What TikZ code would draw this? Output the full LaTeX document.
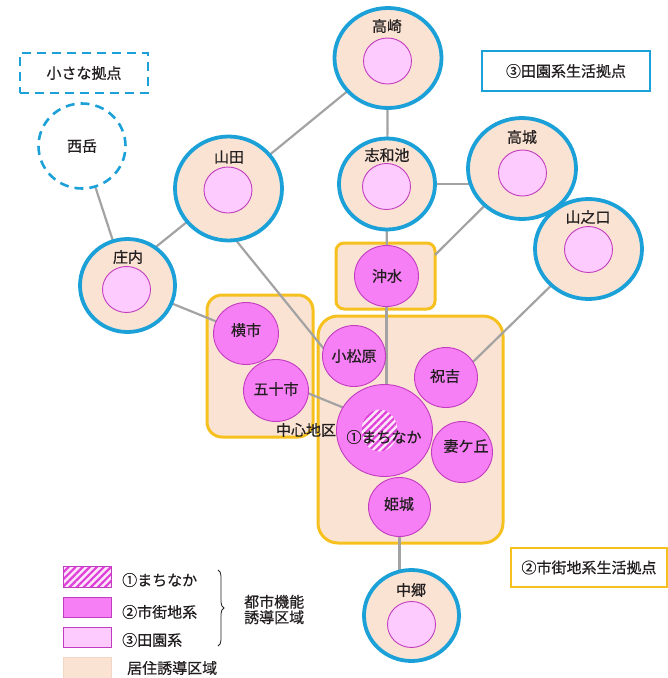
\documentclass[tikz,border=0pt]{standalone}
\usepackage{fontspec}
\usetikzlibrary{shapes.geometric,patterns.meta,decorations.pathreplacing}
\newfontfamily\cjk[FakeBold=0.6]{Noto Sans CJK JP}
\definecolor{cblue}{HTML}{1BA1D8}
\definecolor{cbeige}{HTML}{FBE3D4}
\definecolor{cyellow}{HTML}{F6C11F}
\definecolor{pstrong}{HTML}{F77FF5}
\definecolor{plight}{HTML}{FDCBFD}
\definecolor{pborder}{HTML}{C23CC0}
\definecolor{phatch}{HTML}{E040D8}
\definecolor{phbg}{HTML}{FCE4FB}
\definecolor{cgray}{HTML}{A3A3A3}
\definecolor{ctext}{HTML}{231F20}
\definecolor{lgbeige}{HTML}{F3D6C4}
\pgfdeclarelayer{boxes}
\pgfdeclarelayer{lines}
\pgfsetlayers{boxes,lines,main}
\begin{document}
\begin{tikzpicture}[x=1pt,y=-1pt,
  outer/.style={ellipse, draw=cblue, line width=3.8pt, fill=cbeige, inner sep=0pt, outer sep=0pt},
  rural/.style={ellipse, draw=pborder, line width=0.9pt, fill=plight, minimum width=48pt, minimum height=46pt, inner sep=0pt},
  urban/.style={ellipse, draw=pborder, line width=0.9pt, fill=pstrong, inner sep=0pt, outer sep=0pt},
  ybox/.style={rectangle, draw=cyellow, line width=3pt, fill=cbeige, inner sep=0pt, outer sep=0pt},
  conn/.style={draw=cgray, line width=2.2pt},
  lbl/.style={font=\cjk\fontsize{15}{17}\selectfont, text=ctext, inner sep=0pt},
  sz/.style 2 args={minimum width=#1pt, minimum height=#2pt},
  hatch/.style={preaction={fill=phbg}, pattern={Lines[angle=45,distance=5pt,line width=2.2pt]}, pattern color=phatch}
]
\useasboundingbox (0,0) rectangle (668,678);

% ---------- zone boxes ----------
\begin{pgfonlayer}{boxes}
\node[ybox, sz={99}{66}, rounded corners=8pt] (okibox) at (385.5,276) {};
\node[ybox, sz={185}{227}, rounded corners=20pt] (mainbox) at (410.5,429.5) {};
\node[ybox, sz={106}{142}, rounded corners=15pt] (westbox) at (260,366) {};
\end{pgfonlayer}

% ---------- outer circles (rural hubs) ----------
\node[outer, sz={107}{100}] (takasaki) at (388,58) {};
\node[outer, sz={96}{91}] (shiwachi) at (387,184) {};
\node[outer, sz={108}{101}] (takajo) at (522,168.5) {};
\node[outer, sz={107}{100}] (yamanokuchi) at (588.5,249) {};
\node[outer, sz={107}{104}] (yamada) at (228.5,188.5) {};
\node[outer, sz={95}{93}] (shonai) at (127.5,285.5) {};
\node[outer, sz={95}{91}] (nakago) at (411.5,615.5) {};
\node[ellipse, draw=cblue, line width=2.6pt, dash pattern=on 9pt off 6pt, fill=white, sz={87}{85}, inner sep=0pt] (nishidake) at (82,146) {};

\node[rural] (takasakiin) at (387.5,61) {};
\node[rural] (shiwachiin) at (386.5,186.5) {};
\node[rural] (takajoin) at (522.5,173) {};
\node[rural] (yamanokuchiin) at (588.5,249.5) {};
\node[rural] (yamadain) at (228,190) {};
\node[rural] (shonaiin) at (126.5,289.5) {};
\node[rural] (nakagoin) at (411.5,624.5) {};

% ---------- urban circles ----------
\node[urban, sz={64}{61}] (okimizu) at (386.5,276) {};
\node[urban, sz={65}{62}] (yokoichi) at (246,333.5) {};
\node[urban, sz={65}{62}] (isoichi) at (276,390.5) {};
\node[urban, sz={63}{61}] (komatsubara) at (354,356) {};
\node[urban, sz={63}{60}] (iwayoshi) at (446,377.5) {};
\node[urban, sz={96}{92}] (machinaka) at (384.5,430.5) {};
\node[ellipse, hatch, sz={36}{42}, inner sep=0pt] (machicore) at (379.5,430.5) {};
\node[urban, sz={61}{61}] (tsumagaoka) at (462,452) {};
\node[urban, sz={62}{59}] (himeki) at (399.5,507) {};

% ---------- connectors ----------
\begin{pgfonlayer}{lines}
\draw[conn] (yamada.center) -- (takasaki.center);
\draw[conn] (takasaki.center) -- (shiwachi.center);
\draw[conn] (shiwachi.center) -- (shiwachi.center -| takajo.center);
\draw[conn] (shiwachi.center) -- (okimizu.center);
\draw[conn] (takajo.center) -- (okibox.23);
\draw[conn] (yamanokuchi.center) -- (iwayoshi.30);
\draw[conn] (nishidake) -- (shonai.center);
\draw[conn] (yamada.center) -- (shonai.54);
\draw[conn] (shonai.center) -- (yokoichi.center);
\draw[conn] (yamada.278) -- (komatsubara.166);
\draw[conn] (isoichi.355) -- (machinaka.151);
\draw[conn] (okimizu.center) -- (okimizu.center |- machinaka.center);
\draw[conn] (himeki.center) -- (himeki.center |- nakago.center);
\end{pgfonlayer}

% ---------- labels ----------
\node[lbl] (ltakasaki) at (387,26) {高崎};
\node[lbl] (lshiwachi) at (387,155) {志和池};
\node[lbl] (ltakajo) at (522,137) {高城};
\node[lbl] (lyamanokuchi) at (588,217) {山之口};
\node[lbl] (lyamada) at (229,157) {山田};
\node[lbl] (lshonai) at (128,257) {庄内};
\node[lbl] (lnakago) at (411,590) {中郷};
\node[lbl] (lnishidake) at (82,146) {西岳};
\node[lbl] (lokimizu) at (387,276) {沖水};
\node[lbl] (lyokoichi) at (246,330) {横市};
\node[lbl] (lisoichi) at (276,389) {五十市};
\node[lbl] (lkomatsubara) at (354,356) {小松原};
\node[lbl] (liwayoshi) at (445,376) {祝吉};
\node[lbl] (lmachinaka) at (384,437) {①まちなか};
\node[lbl] (ltsumagaoka) at (466,446) {妻ケ丘};
\node[lbl] (lhimeki) at (399,504) {姫城};
\node[lbl] (lchushin) at (306,430) {中心地区};

% ---------- category boxes ----------
\node[rectangle, draw=cblue, line width=2.6pt, dash pattern=on 9pt off 6pt, sz={128}{40}, inner sep=0pt] (smallbox) at (84,73) {};
\node[lbl] (lsmall) at (84,73) {小さな拠点};
\node[rectangle, draw=cblue, line width=2pt, sz={168}{40}, inner sep=0pt] (denbox) at (566,71) {};
\node[lbl] (lden) at (566,71) {③田園系生活拠点};
\node[rectangle, draw=cyellow, line width=2.5pt, sz={156}{39}, inner sep=0pt] (shibox) at (589,567.5) {};
\node[lbl] (lshi) at (589,567.5) {②市街地系生活拠点};

% ---------- legend ----------
\node[rectangle, hatch, draw=pborder, line width=0.9pt, sz={48}{21}, inner sep=0pt] (lg1) at (87,576.5) {};
\node[rectangle, fill=pstrong, draw=pborder, line width=0.9pt, sz={48}{20}, inner sep=0pt] (lg2) at (87,607) {};
\node[rectangle, fill=plight, draw=pborder, line width=0.9pt, sz={48}{20}, inner sep=0pt] (lg3) at (87,637) {};
\node[rectangle, fill=cbeige, draw=lgbeige, line width=0.9pt, sz={48}{22}, inner sep=0pt] (lg4) at (87,668) {};
\node[lbl, anchor=west] (llg1) at (122,580) {①まちなか};
\node[lbl, anchor=west] (llg2) at (122,612) {②市街地系};
\node[lbl, anchor=west] (llg3) at (122,640) {③田園系};
\node[lbl, anchor=west] (llg4) at (127,668) {居住誘導区域};
\coordinate (bracetop) at (218,570);
\coordinate (bracebot) at (218,646);
\draw[ctext, line width=0.8pt, decorate, decoration={brace, amplitude=6pt}] (bracetop) -- (bracebot);
\node[lbl, anchor=west, align=left, font=\cjk\fontsize{15}{15.5}\selectfont] (lurban) at (244,609.5) {都市機能\\誘導区域};
\end{tikzpicture}
\end{document}
